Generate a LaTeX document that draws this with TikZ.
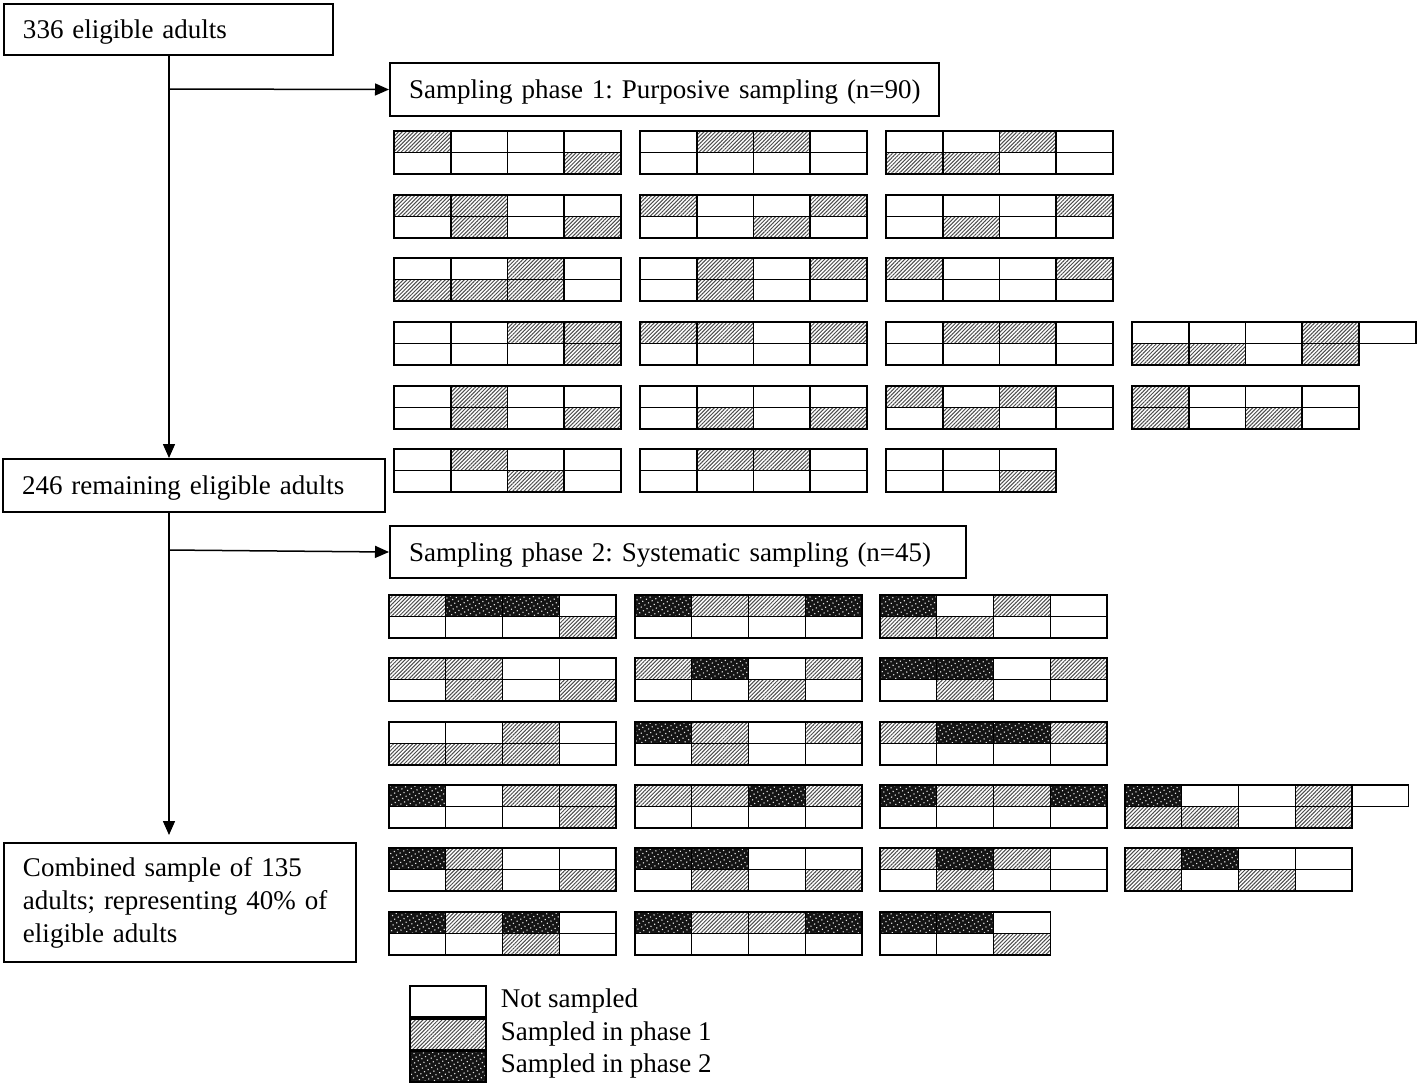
\documentclass[tikz,border=0pt]{standalone}
\usepackage{fontspec}
\setmainfont{Liberation Serif}
\usetikzlibrary{arrows.meta,patterns.meta}
\frenchspacing
\newcommand\mygrid[4]{%
  \foreach \v [count=\i from 0] in {#3} {\path[st\v] ({#1+\i*56.75},{#2}) rectangle ++(56.75,21.5);}
  \foreach \v [count=\i from 0] in {#4} {\path[st\v] ({#1+\i*56.75},{#2+21.5}) rectangle ++(56.75,21.5);}
}
\begin{document}
\begin{tikzpicture}[x=0.5pt,y=-0.5pt,
  txt/.style={font=\fontsize{13.5}{16.5}\selectfont},
  flow/.style={txt,draw,line width=1pt,anchor=north west,align=left,inner xsep=9.5pt,inner ysep=0pt},
  one/.style={text depth=0pt},
  conn/.style={line width=0.75pt},
  arr/.style={conn,-{Triangle[length=7pt,width=6pt]}},
  st0/.style={draw,fill=white},
  st1/.style={draw,preaction={fill=white},pattern={Lines[angle=45,distance=1.35pt,line width=0.5pt]},pattern color=black!70},
  st2/.style={draw,preaction={fill=black!92},pattern={Dots[radius=0.4pt,distance=2.1pt,angle=30]},pattern color=white!80!gray},
]
\useasboundingbox (0,0) rectangle (1418,1084);

% flow boxes
\node[flow,one,text width=145.5pt,minimum height=25.5pt] (b1) at (3,3) {\mbox{336 eligible adults}};
\node[flow,one,text width=255.5pt,minimum height=26.5pt] (p1) at (389,62) {\mbox{Sampling phase 1: Purposive sampling (n=90)}};
\node[flow,one,text width=172pt,minimum height=26.5pt] (b2) at (2,458) {\mbox{246 remaining eligible adults}};
\node[flow,one,text width=269pt,minimum height=26pt] (p2) at (389,525) {\mbox{Sampling phase 2: Systematic sampling (n=45)}};
\node[flow,text width=157pt,minimum height=59.5pt] (b3) at (3,842) {Combined sample of 135\\adults; representing 40\% of\\eligible adults};

% connectors
\coordinate (sp) at (169,0);
\coordinate (j1) at (169,89);
\coordinate (j2) at (169,550);
\draw[arr] (b1.south -| sp) -- (b2.north -| sp);
\draw[arr,shorten >=3.5pt] (b2.south -| sp) -- (b3.north -| sp);
\draw[arr] (j1) -- (p1.west);
\draw[arr] (j2) -- (p2.west);

% phase 1 grids
\begin{scope}[line width=0.9pt]
\mygrid{394}{131}{1,0,0,0}{0,0,0,1}
\mygrid{640}{131}{0,1,1,0}{0,0,0,0}
\mygrid{886}{131}{0,0,1,0}{1,1,0,0}
\mygrid{394}{195}{1,1,0,0}{0,1,0,1}
\mygrid{640}{195}{1,0,0,1}{0,0,1,0}
\mygrid{886}{195}{0,0,0,1}{0,1,0,0}
\mygrid{394}{258}{0,0,1,0}{1,1,1,0}
\mygrid{640}{258}{0,1,0,1}{0,1,0,0}
\mygrid{886}{258}{1,0,0,1}{0,0,0,0}
\mygrid{394}{322}{0,0,1,1}{0,0,0,1}
\mygrid{640}{322}{1,1,0,1}{0,0,0,0}
\mygrid{886}{322}{0,1,1,0}{0,0,0,0}
\mygrid{1132}{322}{0,0,0,1,0}{1,1,0,1}
\mygrid{394}{386}{0,1,0,0}{0,1,0,1}
\mygrid{640}{386}{0,0,0,0}{0,1,0,1}
\mygrid{886}{386}{1,0,1,0}{0,1,0,0}
\mygrid{1132}{386}{1,0,0,0}{1,0,1,0}
\mygrid{394}{449}{0,1,0,0}{0,0,1,0}
\mygrid{640}{449}{0,1,1,0}{0,0,0,0}
\mygrid{886}{449}{0,0,0}{0,0,1}
\end{scope}

% phase 2 grids
\begin{scope}[line width=0.65pt]
\mygrid{389}{595}{1,2,2,0}{0,0,0,1}
\mygrid{635}{595}{2,1,1,2}{0,0,0,0}
\mygrid{880}{595}{2,0,1,0}{1,1,0,0}
\mygrid{389}{658}{1,1,0,0}{0,1,0,1}
\mygrid{635}{658}{1,2,0,1}{0,0,1,0}
\mygrid{880}{658}{2,2,0,1}{0,1,0,0}
\mygrid{389}{722}{0,0,1,0}{1,1,1,0}
\mygrid{635}{722}{2,1,0,1}{0,1,0,0}
\mygrid{880}{722}{1,2,2,1}{0,0,0,0}
\mygrid{389}{785}{2,0,1,1}{0,0,0,1}
\mygrid{635}{785}{1,1,2,1}{0,0,0,0}
\mygrid{880}{785}{2,1,1,2}{0,0,0,0}
\mygrid{1125}{785}{2,0,0,1,0}{1,1,0,1}
\mygrid{389}{848}{2,1,0,0}{0,1,0,1}
\mygrid{635}{848}{2,2,0,0}{0,1,0,1}
\mygrid{880}{848}{1,2,1,0}{0,1,0,0}
\mygrid{1125}{848}{1,2,0,0}{1,0,1,0}
\mygrid{389}{912}{2,1,2,0}{0,0,1,0}
\mygrid{635}{912}{2,1,1,2}{0,0,0,0}
\mygrid{880}{912}{2,2,0}{0,0,1}
\end{scope}

% legend
\begin{scope}[line width=0.75pt]
\node[st0,minimum width=38pt,minimum height=15.5pt,inner sep=0pt,anchor=north west] (l0) at (409,985) {};
\node[st1,minimum width=38pt,minimum height=15.5pt,inner sep=0pt,anchor=north west] (l1) at (409,1018) {};
\node[st2,minimum width=38pt,minimum height=15.5pt,inner sep=0pt,anchor=north west] (l2) at (409,1050) {};
\end{scope}
\node[txt,anchor=west,inner xsep=0pt,xshift=7pt] (t0) at (l0.east) {Not sampled};
\node[txt,anchor=west,inner xsep=0pt,xshift=7pt] (t1) at (l1.east) {Sampled in phase 1};
\node[txt,anchor=west,inner xsep=0pt,xshift=7pt] (t2) at (l2.east) {Sampled in phase 2};
\end{tikzpicture}
\end{document}
